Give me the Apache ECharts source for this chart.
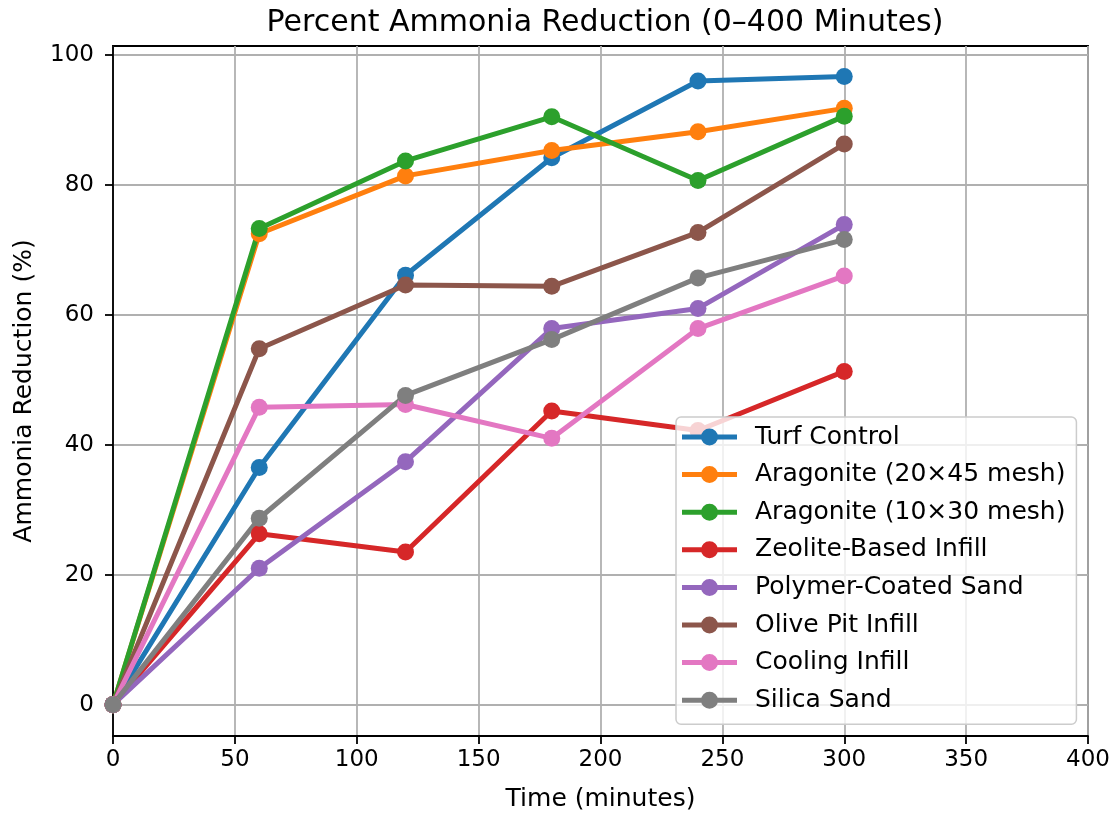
<!DOCTYPE html>
<html>
<head>
<meta charset="utf-8">
<script src="https://cdn.jsdelivr.net/npm/echarts@6/dist/echarts.min.js"></script>
<style>
  html, body { margin: 0; padding: 0; background: #fff; }
  #chart { width: 1117px; height: 817px; }
</style>
</head>
<body>
<div id="chart"></div>
<script>
// time points (minutes)
const times = [0, 60, 120, 180, 240, 300]

// percent ammonia reduction per infill
const turfControl = [0, 36.5, 66.1, 84.2, 96.0, 96.7]
const aragonite20x45 = [0, 72.5, 81.4, 85.3, 88.2, 91.8]
const aragonite10x30 = [0, 73.3, 83.7, 90.5, 80.7, 90.6]
const zeoliteInfill = [0, 26.3, 23.5, 45.2, 42.2, 51.3]
const polymerSand = [0, 21.0, 37.4, 57.9, 61.0, 73.9]
const olivePitInfill = [0, 54.8, 64.6, 64.4, 72.7, 86.3]
const coolingInfill = [0, 45.8, 46.2, 41.0, 57.9, 66.0]
const silicaSand = [0, 28.7, 47.6, 56.2, 65.7, 71.6]

const seriesNames = [
  'Turf Control',
  'Aragonite (20×45 mesh)',
  'Aragonite (10×30 mesh)',
  'Zeolite-Based Infill',
  'Polymer-Coated Sand',
  'Olive Pit Infill',
  'Cooling Infill',
  'Silica Sand'
]
const seriesValues = [
  turfControl, aragonite20x45, aragonite10x30, zeoliteInfill,
  polymerSand, olivePitInfill, coolingInfill, silicaSand
]
const yTicks = [0, 20, 40, 60, 80, 100]

const colors = ['#1f77b4', '#ff7f0e', '#2ca02c', '#d62728', '#9467bd', '#8c564b', '#e377c2', '#7f7f7f']
const font = 'DejaVu Sans'
// legend handle: short line with a dot in the middle
const handleIcon = 'path://M0,6.5 L55,6.5 L55,11.5 L0,11.5 Z M19,9 A8.5,8.5 0 1,1 36,9 A8.5,8.5 0 1,1 19,9 Z'

const chart = echarts.init(document.getElementById('chart'), null, { renderer: 'canvas' })

const option = {
  animation: false,
  color: colors,
  textStyle: { fontFamily: font, color: '#000' },
  title: {
    text: 'Percent Ammonia Reduction (0–400 Minutes)',
    left: 600,
    top: 3,
    textAlign: 'center',
    textStyle: { fontFamily: font, fontSize: 30, fontWeight: 'normal', color: '#000' }
  },
  legend: {
    orient: 'vertical',
    left: 676,
    top: 417,
    padding: [7, 11, 11, 6],
    itemGap: 11.6,
    itemWidth: 55,
    itemHeight: 18,
    icon: handleIcon,
    backgroundColor: 'rgba(255,255,255,0.8)',
    borderColor: '#cccccc',
    borderWidth: 1.5,
    borderRadius: 5,
    textStyle: { fontFamily: font, fontSize: 25, color: '#000', lineHeight: 26, padding: [0, 0, 0, 13] },
    data: seriesNames
  },
  grid: {
    left: 113,
    right: 29,
    top: 46,
    bottom: 79,
    show: true,
    borderColor: '#000',
    borderWidth: 1.8,
    backgroundColor: '#fff'
  },
  xAxis: {
    type: 'value',
    min: 0,
    max: 400,
    interval: 50,
    name: 'Time (minutes)',
    nameLocation: 'middle',
    nameGap: 51,
    nameTextStyle: { fontFamily: font, fontSize: 25, color: '#000' },
    axisLine: { show: true, onZero: false, lineStyle: { color: '#000', width: 1.8 } },
    axisTick: { show: true, inside: false, length: 8, lineStyle: { color: '#000', width: 1.8 } },
    axisLabel: { fontFamily: font, fontSize: 23, color: '#000', margin: 13 },
    splitLine: { show: true, lineStyle: { color: '#b0b0b0', width: 1.8 } }
  },
  yAxis: {
    type: 'value',
    min: -4.83,
    max: 101.4,
    name: 'Ammonia Reduction (%)',
    nameLocation: 'middle',
    nameGap: 76,
    nameRotate: 90,
    nameTextStyle: { fontFamily: font, fontSize: 25, color: '#000' },
    axisLine: { show: true, onZero: false, lineStyle: { color: '#000', width: 1.8 } },
    axisTick: { show: true, inside: false, length: 8, customValues: yTicks, lineStyle: { color: '#000', width: 1.8 } },
    axisLabel: { fontFamily: font, fontSize: 23, color: '#000', margin: 19, customValues: yTicks },
    splitLine: { show: true, lineStyle: { color: '#b0b0b0', width: 1.8 } }
  },
  series: seriesNames.map((name, i) => ({
    name: name,
    type: 'line',
    data: times.map((t, j) => [t, seriesValues[i][j]]),
    symbol: 'circle',
    symbolSize: 17,
    showSymbol: true,
    lineStyle: { width: 5, color: colors[i] },
    itemStyle: { color: colors[i] },
    emphasis: { disabled: true }
  }))
}

chart.setOption(option)
</script>
</body>
</html>
